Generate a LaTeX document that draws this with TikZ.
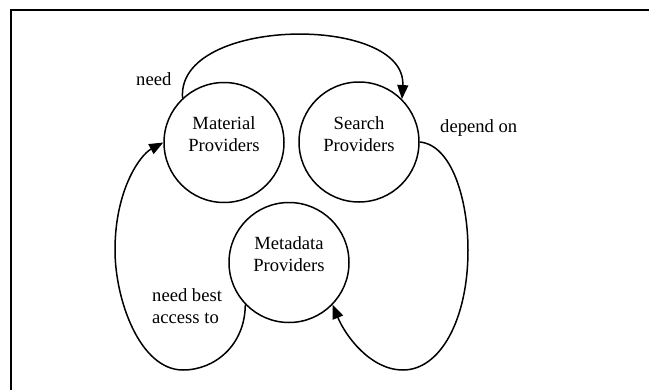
\documentclass[tikz,border=0pt]{standalone}
\usepackage{fontspec}
\setmainfont{Liberation Serif}
\usetikzlibrary{arrows.meta}
\begin{document}
\begin{tikzpicture}[x=1pt,y=-1pt,
  every node/.style={font=\fontsize{18.6}{22}\selectfont},
  prov/.style={draw,circle,line width=1.5pt,minimum size=120pt,inner sep=0pt,align=center,text depth=16pt},
  lbl/.style={inner sep=0pt,align=left,anchor=west},
  conn/.style={line width=1.5pt,-{Triangle[length=14pt,width=11pt]}}]
\useasboundingbox (0,0) rectangle (649,389);
\draw[line width=2pt] (11,395) -- (11,10) -- (655,10);
\node[prov] (mat) at (224,142.5) {Material\\Providers};
\node[prov] (sea) at (359,142) {Search\\Providers};
\node[prov] (met) at (289,262.5) {Metadata\\Providers};
\node[lbl] (need) at (136,79) {need};
\node[lbl] (dep) at (440,128) {depend on};
\node[lbl] (best) at (152,306.5) {need best\\access to};
\draw[conn] (mat.133) .. controls (176,16) and (407,14) .. (sea.45);
\draw[conn] (sea.0) .. controls (452,145) and (468,200) .. (468,250)
  .. controls (468,320) and (440,370) .. (403,370)
  .. controls (370,370) and (345,335) .. (met.-44);
\draw[conn] (met.-136) .. controls (245,345) and (215,370) .. (183,370)
  .. controls (140,370) and (115,300) .. (115,250)
  .. controls (115,190) and (140,155) .. (mat.180);
\end{tikzpicture}
\end{document}
